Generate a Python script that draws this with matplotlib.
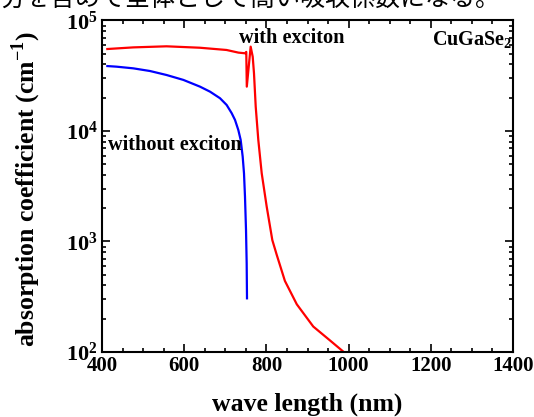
import matplotlib
matplotlib.use("Agg")
import matplotlib.pyplot as plt
import numpy as np
from matplotlib.ticker import MultipleLocator, LogLocator, NullFormatter

# Data
wl_with = [413, 476, 557, 638, 703, 732, 748, 751, 752.3, 761.7, 766.7, 769.8, 774, 780.3, 788.6,
           800.7, 814.4, 825, 845, 874, 914, 955, 991]
a_with = [5.52e4, 5.71e4, 5.84e4, 5.67e4, 5.41e4, 5.12e4, 5.05e4, 5.2e4, 2.52e4, 5.8e4, 4.7e4, 3.33e4,
          1.66e4, 8.3e3, 4.14e3, 2.07e3, 1.03e3, 7.6e2, 4.4e2, 2.7e2, 1.7e2, 1.27e2, 0.98e2]
wl_without = [413, 435.7, 476.2, 516.8, 557.3, 597.9, 638.4, 662.8, 687.1, 703.3, 715.5, 723.6,
              731.7, 737.4, 742.3, 745.5, 747.9, 750.4, 752.0, 752.8]
a_without = [3.87e4, 3.82e4, 3.69e4, 3.49e4, 3.21e4, 2.90e4, 2.52e4, 2.27e4, 1.98e4, 1.72e4, 1.45e4,
             1.26e4, 1.02e4, 8.3e3, 5.86e3, 4.14e3, 2.55e3, 1.27e3, 6.35e2, 3.06e2]

xticks = [400, 600, 800, 1000, 1200, 1400]
yticks = [1e2, 1e3, 1e4, 1e5]
ytick_labels = [r'$\mathbf{10^{2}}$', r'$\mathbf{10^{3}}$', r'$\mathbf{10^{4}}$', r'$\mathbf{10^{5}}$']

plt.rcParams['font.family'] = ['Liberation Serif', 'Noto Sans CJK JP']
plt.rcParams['font.weight'] = 'bold'
plt.rcParams['mathtext.fontset'] = 'custom'
plt.rcParams['mathtext.rm'] = 'Liberation Serif:bold'
plt.rcParams['mathtext.bf'] = 'Liberation Serif:bold'

fig = plt.figure(figsize=(5.34, 4.17), dpi=100)
ax = fig.add_axes([102/534, 1-352/417, (513-102)/534, (352-20.5)/417])

ax.plot(wl_with, a_with, color='red', lw=1.6)
ax.plot(wl_without, a_without, color='blue', lw=1.6)

ax.set_yscale('log')
ax.set_xlim(400, 1400)
ax.set_ylim(1e2, 1e5)
ax.set_xticks(xticks)
ax.set_xticklabels([str(v) for v in xticks], fontsize=15, fontweight='bold')
ax.xaxis.set_minor_locator(MultipleLocator(50))
ax.yaxis.set_minor_locator(LogLocator(base=10, subs=np.arange(2, 10), numticks=10))
ax.yaxis.set_minor_formatter(NullFormatter())
ax.set_yticks(yticks)
ax.set_yticklabels(ytick_labels, fontsize=16)

ax.tick_params(which='both', direction='in', top=True, right=True, width=1.2)
ax.tick_params(which='major', length=6, pad=3)
ax.tick_params(which='minor', length=3)
for s in ax.spines.values():
    s.set_linewidth(1.5)

ax.set_xlabel('wave length (nm)', fontsize=18.5, fontweight='bold')
ax.xaxis.set_label_coords(0.5, (352-393)/331.5)
ax.set_ylabel(r'absorption coefficient (cm$^{\mathbf{-1}}$)', fontsize=18.5, fontweight='bold')
ax.yaxis.set_label_coords((43.5-102)/411, 0.49)

fig.text(292/534, 1-38/417, 'with exciton', ha='center', va='center', fontsize=14.6, fontweight='bold')
fig.text(108/534, 1-145/417, 'without exciton', ha='left', va='center', fontsize=14.6, fontweight='bold')
fig.text(512/534, 1-40/417, r'CuGaSe$_{\mathbf{2}}$', ha='right', va='center', fontsize=14.5, fontweight='bold')

fig.text(0.0, 1 - 6/417, '分を含めて全体として高い吸収係数になる。', ha='left', va='baseline', fontsize=18,
         family=['Noto Sans CJK JP'], fontweight='normal')

fig.savefig('out.png', dpi=100)
